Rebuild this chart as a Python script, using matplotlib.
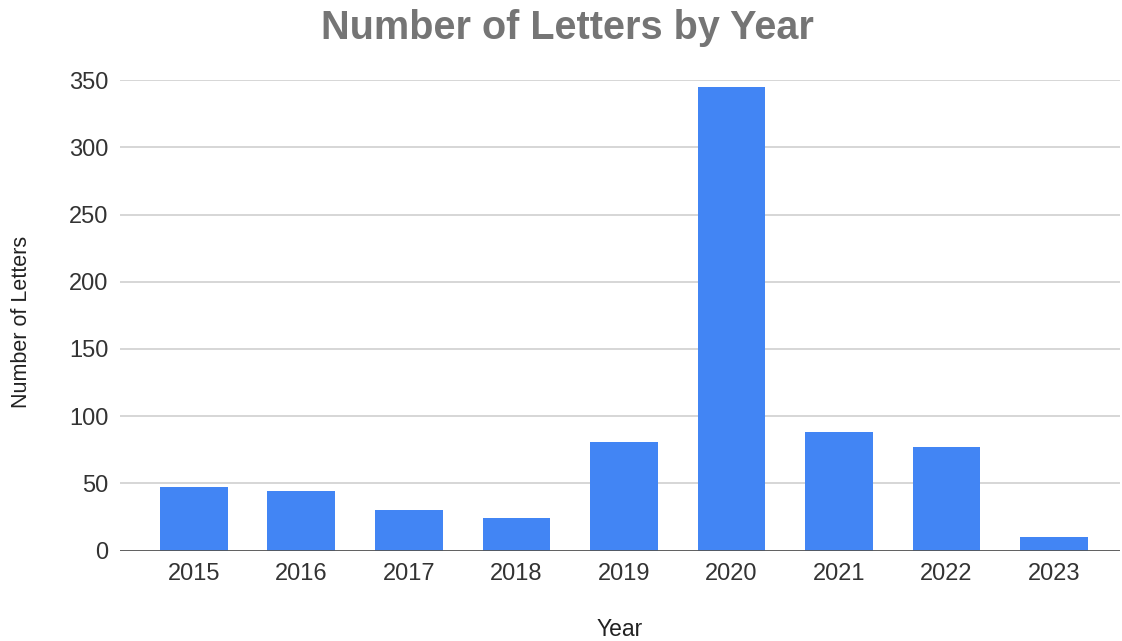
import matplotlib
matplotlib.use('Agg')
import matplotlib.pyplot as plt

# Letters received per year
years = ['2015', '2016', '2017', '2018', '2019', '2020', '2021', '2022', '2023']
letters = [47, 44, 30, 24, 81, 345, 88, 77, 10]
y_ticks = [0, 50, 100, 150, 200, 250, 300, 350]

plt.rcParams['font.family'] = ['Liberation Sans', 'DejaVu Sans']

fig = plt.figure(figsize=(11.22, 6.41), dpi=100)
ax = fig.add_axes([0.107, 0.141, 0.891, 0.734])

x = range(len(years))
ax.bar(x, letters, width=0.63, color='#4285F4', zorder=3)

ax.set_xlim(-0.686, 8.61)
ax.set_ylim(0, 350)
ax.set_yticks(y_ticks)
ax.set_xticks(list(x))
ax.set_xticklabels(years)
ax.tick_params(axis='both', length=0, labelsize=17, labelcolor='#333333')
ax.tick_params(axis='y', pad=8.5)
ax.tick_params(axis='x', pad=9)

ax.grid(axis='y', color='#d0d0d0', linewidth=1.2, zorder=0)
ax.axhline(0, color='#555555', linewidth=2, zorder=4)
for side in ['top', 'right', 'left', 'bottom']:
    ax.spines[side].set_visible(False)

fig.text(0.506, 0.957, 'Number of Letters by Year', fontsize=28.5,
         fontweight='bold', color='#757575', ha='center', va='center')
ax.set_xlabel('Year', fontsize=16.5, color='#222222', labelpad=24)
ax.set_ylabel('Number of Letters', fontsize=15.5, color='#222222', labelpad=18)
ax.yaxis.set_label_coords(-0.088, 0.485)

fig.savefig('out.png', dpi=100)
